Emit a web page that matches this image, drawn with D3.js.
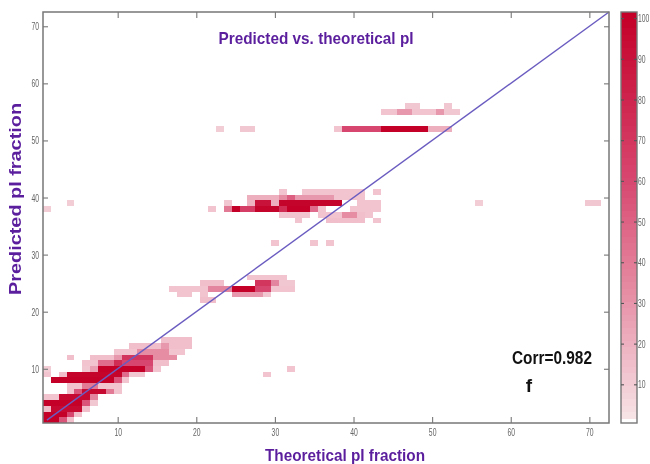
<!DOCTYPE html>
<html><head><meta charset="utf-8">
<script src="https://cdn.jsdelivr.net/npm/d3@7"></script>
<style>
html,body{margin:0;padding:0;background:#fff}
svg{display:block}
text{font-family:"Liberation Sans",sans-serif}
</style></head><body>
<svg id="c" width="650" height="464"></svg>
<script>
// Each run: [predicted fraction (row), first theoretical fraction, last theoretical fraction, value]
const lowBand = [
 [1,1,2,100],[1,3,3,55],[1,4,4,14],
 [2,1,3,100],[2,4,4,60],[2,5,5,14],
 [3,1,1,15],[3,2,5,95],[3,6,6,14],
 [4,1,5,100],[4,6,6,55],[4,7,7,11],
 [5,1,2,12],[5,3,6,95],[5,7,7,35],
 [6,4,4,12],[6,5,5,55],[6,6,8,95],[6,9,9,40],[6,10,10,12],
 [7,4,5,12],[7,6,7,40],[7,8,10,12],
 [8,2,9,100],[8,10,10,55],[8,11,11,12],
 [9,1,1,12],[9,3,3,14],[9,4,10,98],[9,11,11,45],[9,12,13,11],
 [10,1,1,9],[10,6,6,11],[10,7,7,25],[10,8,13,100],[10,14,14,55],[10,15,15,12],
 [11,6,7,12],[11,8,9,45],[11,10,10,75],[11,11,14,60],[11,15,16,14],
 [12,4,4,14],[12,7,9,14],[12,10,10,28],[12,11,14,70],[12,15,17,32],
 [13,10,12,12],[13,13,16,32],[13,17,18,12],
 [14,12,15,14],[14,16,16,28],[14,17,19,14],
 [15,16,19,14]
];
const band24 = [
 [22,21,22,14],
 [23,18,19,12],[23,21,21,12],[23,25,28,28],[23,29,29,11],
 [24,17,21,12],[24,22,24,35],[24,25,27,100],[24,28,29,60],[24,30,32,12],
 [25,21,23,14],[25,28,29,70],[25,30,30,35],[25,31,32,11],
 [26,27,31,12]
];
const band38 = [
 [32,30,30,12],[32,35,35,12],[32,37,37,12],
 [36,33,33,12],[36,37,41,14],[36,43,43,12],
 [37,31,34,12],[37,36,38,12],[37,39,40,32],[37,41,41,14],[37,42,42,12],
 [38,22,22,12],[38,24,24,40],[38,25,25,100],[38,26,27,65],[38,28,30,98],[38,31,31,75],[38,32,34,100],[38,35,35,45],[38,36,36,12],[38,40,43,12],
 [39,24,24,11],[39,27,27,18],[39,28,29,90],[39,30,30,20],[39,31,38,98],[39,41,43,12],
 [40,27,30,20],[40,31,31,32],[40,32,32,50],[40,33,37,28],[40,38,41,12],
 [41,31,31,12],[41,34,41,12],[41,43,43,12]
];
const band52 = [
 [52,23,23,9],[52,26,27,11],
 [52,38,38,12],[52,39,43,60],[52,44,49,100],[52,50,52,20],
 [55,44,45,12],[55,46,47,28],[55,48,50,12],[55,51,51,28],[55,52,53,11],
 [56,47,48,11],[56,52,52,11]
];
const strayCells = [
 [9,29,29,12],[10,32,32,12],
 [38,1,1,9],[39,4,4,9],[39,56,56,9],[39,70,71,11]
];
const xTicks = [10,20,30,40,50,60,70];
const yTicks = [10,20,30,40,50,60,70];
const barTicks = [10,20,30,40,50,60,70,80,90,100];
const fitLine = [1,72.5];
const titleText = "Predicted vs. theoretical pI";
const xLabel = "Theoretical pI fraction";
const yLabel = "Predicted pI fraction";
const corrText = "Corr=0.982";

const svg = d3.select("#c");
const W = {l:43,r:609,t:12,b:423};
const x = d3.scaleLinear().domain([0.5,72.5]).range([W.l,W.r]);
const y = d3.scaleLinear().domain([0.5,72.5]).range([W.b,W.t]);
const color = d3.scaleLinear().domain([1,30,60,100]).range(["#f7e3e7","#e792a8","#d7466f","#c40028"]);
const GRAY="#777", TXT="#666";

const root = svg.append("g").style("filter","blur(0.55px)");

// heat-map cells
const cells = [];
[lowBand,band24,band38,band52,strayCells].forEach(b=>b.forEach(([r,a,e,v])=>{
  d3.range(a,e+1).forEach(c=>cells.push({r,c,v}));
}));
root.append("g").attr("shape-rendering","crispEdges").selectAll("rect").data(cells).join("rect")
 .attr("x",d=>x(d.c-0.5)).attr("y",d=>y(d.r+0.5))
 .attr("width",d=>x(d.c+0.5)-x(d.c-0.5)).attr("height",d=>y(d.r-0.5)-y(d.r+0.5))
 .attr("fill",d=>color(d.v));

// identity line
root.append("path").datum(fitLine)
 .attr("d",d3.line().x(d=>x(d)).y(d=>y(d)))
 .attr("stroke","#6a5cc0").attr("stroke-width",1.4).attr("fill","none");

// frame + ticks
const SX = 0.62;
function styleAxis(g,labels){
  g.select(".domain").remove();
  g.selectAll("line").attr("stroke",GRAY).attr("stroke-width",1.1);
  g.selectAll("text").attr("fill",TXT).style("font-size","11px")
   .attr("x",function(){return (+this.getAttribute("x")||0)/SX;})
   .attr("transform",`scale(${SX},1)`);
  if(!labels) g.selectAll("text").remove();
}
root.append("g").attr("transform",`translate(0,${W.b})`)
 .call(d3.axisBottom(x).tickValues(xTicks).tickSize(-6).tickPadding(5).tickFormat(d3.format("d")))
 .call(styleAxis,true);
root.append("g").attr("transform",`translate(0,${W.t})`)
 .call(d3.axisTop(x).tickValues(xTicks).tickSize(-6))
 .call(styleAxis,false);
root.append("g").attr("transform",`translate(${W.l},0)`)
 .call(d3.axisLeft(y).tickValues(yTicks).tickSize(-5).tickPadding(4).tickFormat(d3.format("d")))
 .call(styleAxis,true);
root.append("g").attr("transform",`translate(${W.r},0)`)
 .call(d3.axisRight(y).tickValues(yTicks).tickSize(-5))
 .call(styleAxis,false);
root.append("rect").attr("x",W.l).attr("y",W.t).attr("width",W.r-W.l).attr("height",W.b-W.t)
 .attr("fill","none").attr("stroke",GRAY).attr("stroke-width",1.5);

// colour bar
const B = {l:621,r:637};
const barMax = 101.5;
const bar = d3.scaleLinear().domain([0,barMax]).range([425,12]);
const barSteps = d3.range(1.5,barMax,1.6);
root.append("g").attr("shape-rendering","crispEdges").selectAll("rect").data(barSteps).join("rect")
 .attr("x",B.l).attr("width",B.r-B.l)
 .attr("y",d=>bar(Math.min(d+1.6,barMax))).attr("height",d=>bar(d)-bar(Math.min(d+1.6,barMax)))
 .attr("fill",d=>color(Math.min(d,100)));
root.append("rect").attr("x",B.l).attr("y",12).attr("width",B.r-B.l).attr("height",411)
 .attr("fill","none").attr("stroke",GRAY).attr("stroke-width",1.4);
const barAxis = root.append("g");
barAxis.append("g").attr("transform",`translate(${B.r},0)`)
 .call(d3.axisRight(bar).tickValues(barTicks).tickSize(-3).tickPadding(1))
 .call(styleAxis,true);
barAxis.append("g").attr("transform",`translate(${B.l},0)`)
 .call(d3.axisLeft(bar).tickValues(barTicks).tickSize(-3))
 .call(styleAxis,false);
barAxis.selectAll("line").attr("stroke","#555");

// text
const PURPLE="#5b1f9e";
function label(sel,len,size){
  return sel.attr("fill",PURPLE).attr("font-weight","bold").attr("text-anchor","middle")
   .attr("textLength",len).attr("lengthAdjust","spacingAndGlyphs").style("font-size",size+"px");
}
root.append("text").attr("x",316).attr("y",44).call(label,195,17).text(titleText);
root.append("text").attr("x",345).attr("y",461).call(label,160,17).text(xLabel);
root.append("text").attr("transform","translate(21,199) rotate(-90)").call(label,192,16.5).text(yLabel);
root.append("text").attr("x",552).attr("y",364).attr("text-anchor","middle")
 .attr("textLength",80).attr("lengthAdjust","spacingAndGlyphs")
 .attr("fill","#111").attr("font-weight","bold").style("font-size","19px").text(corrText);
root.append("text").attr("x",529).attr("y",392).attr("text-anchor","middle")
 .attr("fill","#111").attr("font-weight","bold").style("font-size","19px").text("f");
</script>
</body></html>
